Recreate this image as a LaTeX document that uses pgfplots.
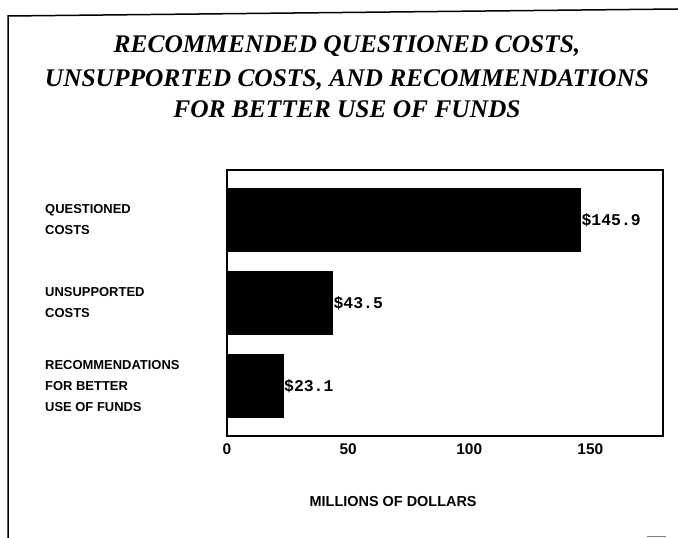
\documentclass[border=0pt]{standalone}
\usepackage{pgfplots}
\pgfplotsset{compat=1.18}
\usepackage{fontspec}
\setmainfont{Liberation Serif}
\setsansfont{Liberation Sans}
\setmonofont{Liberation Mono}
\begin{document}
\begin{tikzpicture}
\useasboundingbox (0bp,0bp) rectangle (678bp,538bp);
\draw[line width=1.5bp] (8bp,0bp) -- (8bp,522bp) -- (678bp,529bp);
\draw[gray, line width=1bp] (647bp,1.5bp) -- (666bp,1.5bp);
\node[font=\bfseries\itshape\fontsize{25.5}{26}\selectfont, anchor=base] at (347bp,485bp) {RECOMMENDED QUESTIONED COSTS,};
\node[font=\bfseries\itshape\fontsize{25.5}{26}\selectfont, anchor=base] at (347bp,451bp) {UNSUPPORTED COSTS, AND RECOMMENDATIONS};
\node[font=\bfseries\itshape\fontsize{25.5}{26}\selectfont, anchor=base] at (347bp,420bp) {FOR BETTER USE OF FUNDS};
\begin{axis}[
  at={(227bp,102bp)}, anchor=south west,
  scale only axis, width=436bp, height=266bp,
  xbar, bar width=63bp,
  xmin=0, xmax=180, ymin=-0.6, ymax=2.6,
  xtick={0,50,100,150},
  ytick={0,1,2},
  yticklabels={{RECOMMENDATIONS\\FOR BETTER\\USE OF FUNDS},{UNSUPPORTED\\COSTS},{QUESTIONED\\COSTS}},
  major tick length=0pt,
  axis line style={line width=1.4bp},
  /pgf/number format/assume math mode=true,
  xticklabel style={font=\sffamily\bfseries\fontsize{15.5}{15.5}\selectfont, yshift=-4bp},
  yticklabel style={anchor=west, align=left, inner sep=0pt, xshift=-182bp, font=\sffamily\bfseries\fontsize{13}{21}\selectfont},
  xlabel={MILLIONS OF DOLLARS},
  xlabel style={at={(rel axis cs:0.381,0)}, anchor=center, yshift=-66bp, font=\sffamily\bfseries\fontsize{14.5}{14.5}\selectfont},
  nodes near coords={\$\pgfmathprintnumber[fixed,precision=1,fixed zerofill]{\pgfplotspointmeta}},
  nodes near coords align={horizontal},
  every node near coord/.append style={anchor=west, inner sep=1bp, font=\ttfamily\bfseries\fontsize{16.5}{16.5}\selectfont, text=black},
]
\addplot[fill=black, draw=black] coordinates {(23.1,0) (43.5,1) (145.9,2)};
\end{axis}
\end{tikzpicture}
\end{document}
